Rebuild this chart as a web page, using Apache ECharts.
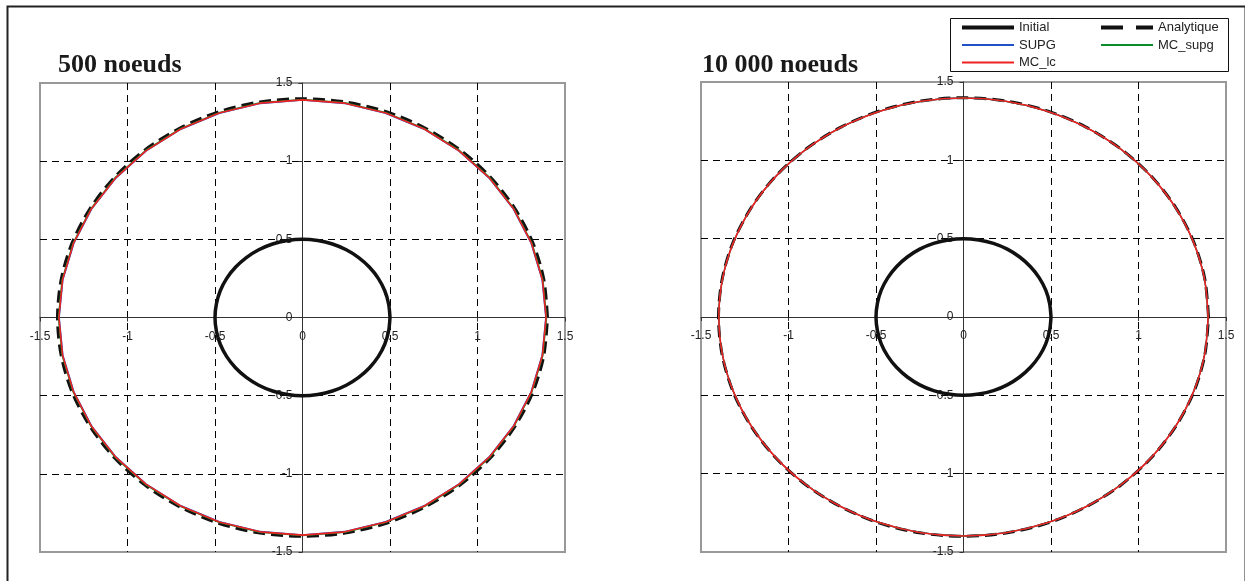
<!DOCTYPE html>
<html>
<head>
<meta charset="utf-8">
<script src="https://cdn.jsdelivr.net/npm/echarts@6/dist/echarts.min.js"></script>
<style>
html,body{margin:0;padding:0;background:#fff;}
#c{width:1245px;height:581px;}
</style>
</head>
<body>
<div id="c"></div>
<script>
// ---- data ----
const panelTitles = ['500 noeuds', '10 000 noeuds'];
const legendLeftCol = ['Initial', 'SUPG', 'MC_lc'];
const legendRightCol = ['Analytique', 'MC_supg'];
const axisTicks = [-1.5, -1, -0.5, 0, 0.5, 1, 1.5];

const initial = [[0.5,0],[0.492,0.087],[0.47,0.171],[0.433,0.25],[0.383,0.321],[0.321,0.383],[0.25,0.433],[0.171,0.47],[0.087,0.492],[0,0.5],
[-0.087,0.492],[-0.171,0.47],[-0.25,0.433],[-0.321,0.383],[-0.383,0.321],[-0.433,0.25],[-0.47,0.171],[-0.492,0.087],[-0.5,0],
[-0.492,-0.087],[-0.47,-0.171],[-0.433,-0.25],[-0.383,-0.321],[-0.321,-0.383],[-0.25,-0.433],[-0.171,-0.47],[-0.087,-0.492],[0,-0.5],
[0.087,-0.492],[0.171,-0.47],[0.25,-0.433],[0.321,-0.383],[0.383,-0.321],[0.433,-0.25],[0.47,-0.171],[0.492,-0.087],[0.5,0]];

const analytique = [[1.4,0],[1.379,0.243],[1.316,0.479],[1.212,0.7],[1.072,0.9],[0.9,1.072],[0.7,1.212],[0.479,1.316],[0.243,1.379],[0,1.4],
[-0.243,1.379],[-0.479,1.316],[-0.7,1.212],[-0.9,1.072],[-1.072,0.9],[-1.212,0.7],[-1.316,0.479],[-1.379,0.243],[-1.4,0],
[-1.379,-0.243],[-1.316,-0.479],[-1.212,-0.7],[-1.072,-0.9],[-0.9,-1.072],[-0.7,-1.212],[-0.479,-1.316],[-0.243,-1.379],[0,-1.4],
[0.243,-1.379],[0.479,-1.316],[0.7,-1.212],[0.9,-1.072],[1.072,-0.9],[1.212,-0.7],[1.316,-0.479],[1.379,-0.243],[1.4,0]];

const supg500 = [[1.39,0],[1.369,0.241],[1.306,0.475],[1.204,0.695],[1.065,0.893],[0.893,1.065],[0.695,1.204],[0.475,1.306],[0.241,1.369],[0,1.39],
[-0.241,1.369],[-0.475,1.306],[-0.695,1.204],[-0.893,1.065],[-1.065,0.893],[-1.204,0.695],[-1.306,0.475],[-1.369,0.241],[-1.39,0],
[-1.369,-0.241],[-1.306,-0.475],[-1.204,-0.695],[-1.065,-0.893],[-0.893,-1.065],[-0.695,-1.204],[-0.475,-1.306],[-0.241,-1.369],[0,-1.39],
[0.241,-1.369],[0.475,-1.306],[0.695,-1.204],[0.893,-1.065],[1.065,-0.893],[1.204,-0.695],[1.306,-0.475],[1.369,-0.241],[1.39,0]];

const mcsupg500 = [[1.395,0],[1.374,0.242],[1.311,0.477],[1.208,0.698],[1.069,0.897],[0.897,1.069],[0.698,1.208],[0.477,1.311],[0.242,1.374],[0,1.395],
[-0.242,1.374],[-0.477,1.311],[-0.698,1.208],[-0.897,1.069],[-1.069,0.897],[-1.208,0.698],[-1.311,0.477],[-1.374,0.242],[-1.395,0],
[-1.374,-0.242],[-1.311,-0.477],[-1.208,-0.698],[-1.069,-0.897],[-0.897,-1.069],[-0.698,-1.208],[-0.477,-1.311],[-0.242,-1.374],[0,-1.395],
[0.242,-1.374],[0.477,-1.311],[0.698,-1.208],[0.897,-1.069],[1.069,-0.897],[1.208,-0.698],[1.311,-0.477],[1.374,-0.242],[1.395,0]];

const mclc500 = [[1.392,0],[1.371,0.242],[1.308,0.476],[1.206,0.696],[1.066,0.895],[0.895,1.066],[0.696,1.206],[0.476,1.308],[0.242,1.371],[0,1.392],
[-0.242,1.371],[-0.476,1.308],[-0.696,1.206],[-0.895,1.066],[-1.066,0.895],[-1.206,0.696],[-1.308,0.476],[-1.371,0.242],[-1.392,0],
[-1.371,-0.242],[-1.308,-0.476],[-1.206,-0.696],[-1.066,-0.895],[-0.895,-1.066],[-0.696,-1.206],[-0.476,-1.308],[-0.242,-1.371],[0,-1.392],
[0.242,-1.371],[0.476,-1.308],[0.696,-1.206],[0.895,-1.066],[1.066,-0.895],[1.206,-0.696],[1.308,-0.476],[1.371,-0.242],[1.392,0]];

const mclc10k = [[1.398,0],[1.377,0.243],[1.314,0.478],[1.211,0.699],[1.071,0.899],[0.899,1.071],[0.699,1.211],[0.478,1.314],[0.243,1.377],[0,1.398],
[-0.243,1.377],[-0.478,1.314],[-0.699,1.211],[-0.899,1.071],[-1.071,0.899],[-1.211,0.699],[-1.314,0.478],[-1.377,0.243],[-1.398,0],
[-1.377,-0.243],[-1.314,-0.478],[-1.211,-0.699],[-1.071,-0.899],[-0.899,-1.071],[-0.699,-1.211],[-0.478,-1.314],[-0.243,-1.377],[0,-1.398],
[0.243,-1.377],[0.478,-1.314],[0.699,-1.211],[0.899,-1.071],[1.071,-0.899],[1.211,-0.699],[1.314,-0.478],[1.377,-0.243],[1.398,0]];
const supg10k = mclc10k;
const mcsupg10k = mclc10k;

// ---- chart ----
const FONT = "'Liberation Sans', Arial, sans-serif";
const SERIF = "'Liberation Serif', 'Times New Roman', serif";
const chart = echarts.init(document.getElementById('c'), null, {renderer: 'canvas'});

const grids = [
  {left: 40, top: 83, width: 525, height: 469},
  {left: 701, top: 82, width: 525, height: 470}
];

function xAxisFor(i) {
  return {
    gridIndex: i, type: 'value', min: axisTicks[0], max: axisTicks[axisTicks.length - 1], interval: 0.5,
    position: 'bottom', offset: -grids[i].height / 2,
    axisLine: {onZero: false, lineStyle: {color: '#333', width: 1}},
    axisTick: {show: true, length: 4, lineStyle: {color: '#333'}},
    axisLabel: {color: '#222', fontSize: 12, fontFamily: FONT, margin: 13, showMinLabel: true, showMaxLabel: true, hideOverlap: false},
    splitLine: {show: true, showMinLine: false, showMaxLine: false, lineStyle: {color: '#000', type: [7, 5], width: 1}}
  };
}
function yAxisFor(i) {
  return {
    gridIndex: i, type: 'value', min: axisTicks[0], max: axisTicks[axisTicks.length - 1], interval: 0.5,
    position: 'left', offset: -grids[i].width / 2,
    axisLine: {onZero: false, lineStyle: {color: '#333', width: 1}},
    axisTick: {show: true, length: 4, lineStyle: {color: '#333'}},
    axisLabel: {color: '#222', fontSize: 12, fontFamily: FONT, margin: 10, showMinLabel: true, showMaxLabel: true, hideOverlap: false},
    splitLine: {show: true, showMinLine: false, showMaxLine: false, lineStyle: {color: '#000', type: [7, 5], width: 1}}
  };
}
function seriesFor(i, sets, smoothCoarse) {
  const base = {type: 'line', xAxisIndex: i, yAxisIndex: i, symbol: 'none', animation: false};
  return [
    Object.assign({}, base, {name: 'Analytique', data: sets.analytique, smooth: 0.3, color: '#111', lineStyle: {color: '#111', width: 3, type: [12, 6]}, z: 2}),
    Object.assign({}, base, {name: 'SUPG', data: sets.supg, smooth: smoothCoarse, color: '#2050c8', lineStyle: {color: '#2050c8', width: 1.3}, z: 3}),
    Object.assign({}, base, {name: 'MC_supg', data: sets.mcsupg, smooth: smoothCoarse, color: '#0a8a2a', lineStyle: {color: '#0a8a2a', width: 1.3}, z: 4}),
    Object.assign({}, base, {name: 'MC_lc', data: sets.mclc, smooth: smoothCoarse, color: '#ee2222', lineStyle: {color: '#ee2222', width: 1.6}, z: 5}),
    Object.assign({}, base, {name: 'Initial', data: sets.initial, smooth: 0.3, color: '#111', lineStyle: {color: '#111', width: 3.5}, z: 6})
  ];
}

const legendCommon = {
  orient: 'vertical', padding: 0,
  itemWidth: 52, itemHeight: 14, itemGap: 4.5,
  itemStyle: {opacity: 0},
  textStyle: {fontFamily: FONT, fontSize: 13, color: '#222'},
  selectedMode: false
};

const option = {
  backgroundColor: '#fff',
  animation: false,
  title: [
    {text: panelTitles[0], left: 58, top: 52, padding: 0, textStyle: {fontFamily: SERIF, fontWeight: 'bold', fontSize: 26, color: '#1a1a1a'}},
    {text: panelTitles[1], left: 702, top: 52, padding: 0, textStyle: {fontFamily: SERIF, fontWeight: 'bold', fontSize: 26, color: '#1a1a1a'}}
  ],
  legend: [
    Object.assign({}, legendCommon, {
      data: [
        {name: legendLeftCol[0], lineStyle: {width: 4}},
        {name: legendLeftCol[1]},
        {name: legendLeftCol[2], lineStyle: {width: 2}}
      ],
      left: 960, top: 21}),
    Object.assign({}, legendCommon, {
      data: [
        {name: legendRightCol[0], lineStyle: {width: 4, type: [22, 13]}},
        {name: legendRightCol[1]}
      ],
      left: 1099, top: 21})
  ],
  graphic: [
    {type: 'rect', left: 5, top: 4, silent: true, z: 100,
     shape: {width: 1238, height: 600},
     style: {fill: 'none', stroke: '#222', lineWidth: 2}},
    {type: 'rect', left: 948, top: 16, silent: true, z: 100,
     shape: {width: 278, height: 53},
     style: {fill: 'none', stroke: '#111', lineWidth: 1}}
  ],
  grid: grids.map(g => Object.assign({show: true, borderColor: '#999', borderWidth: 2, backgroundColor: 'transparent'}, g)),
  xAxis: [xAxisFor(0), xAxisFor(1)],
  yAxis: [yAxisFor(0), yAxisFor(1)],
  series: [].concat(
    seriesFor(0, {analytique: analytique, supg: supg500, mcsupg: mcsupg500, mclc: mclc500, initial: initial}, false),
    seriesFor(1, {analytique: analytique, supg: supg10k, mcsupg: mcsupg10k, mclc: mclc10k, initial: initial}, 0.3)
  )
};
chart.setOption(option);
</script>
</body>
</html>
